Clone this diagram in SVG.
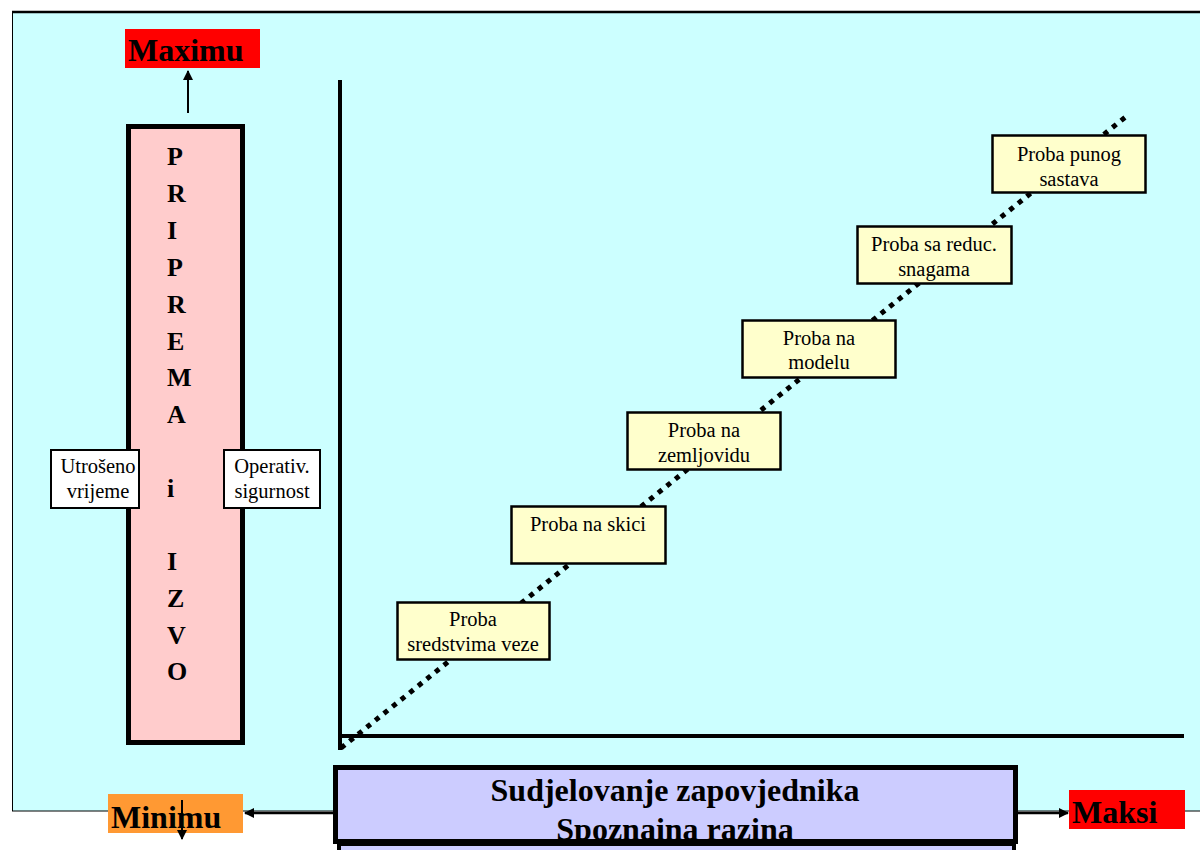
<svg xmlns="http://www.w3.org/2000/svg" width="1200" height="850" viewBox="0 0 1200 850">
<defs>
<style>
.t{font-family:"Liberation Serif","Times New Roman",serif;fill:#000}
.box{fill:#ffffcc;stroke:#000;stroke-width:2.5}
.wbox{fill:#fff;stroke:#000;stroke-width:2}
.lbl{font-size:20.5px;text-anchor:middle}
.big{font-size:26px;font-weight:bold}
.ln{stroke:#000;fill:none}
</style>
<marker id="ah" viewBox="0 0 10 10" refX="9" refY="5" markerWidth="10" markerHeight="10" markerUnits="userSpaceOnUse" orient="auto"><path d="M0,0 L10,5 L0,10 Z" fill="#000"/></marker>
<clipPath id="bc"><rect x="338" y="770" width="675" height="71"/></clipPath>
</defs>
<rect width="1200" height="850" fill="#fff"/>
<rect x="12.5" y="12" width="1200" height="799" fill="#ccffff" stroke="#000" stroke-width="1"/>
<line x1="12" y1="12" x2="1200" y2="12" stroke="#000" stroke-width="2.5"/>

<g id="connectors">
<line class="ln" x1="340" y1="80" x2="340" y2="750" stroke-width="4"/>
<line class="ln" x1="338" y1="736" x2="1184" y2="736" stroke-width="4"/>
<line class="ln" x1="341" y1="748" x2="1128" y2="115" stroke-width="5" stroke-dasharray="5 6"/>
<line class="ln" x1="188" y1="113" x2="188" y2="71" stroke-width="2" marker-end="url(#ah)"/>
<line class="ln" x1="340" y1="813" x2="245" y2="813" stroke-width="2.5" marker-end="url(#ah)"/>
<line class="ln" x1="1011" y1="813" x2="1068" y2="813" stroke-width="2.5" marker-end="url(#ah)"/>
</g>

<g id="maximu">
<rect x="125" y="29" width="135" height="39" fill="#ff0000"/>
<text class="t" x="128" y="61" font-size="32" font-weight="bold">Maximu</text>
</g>

<g id="priprema">
<rect x="128.5" y="126.5" width="114" height="616" fill="#ffcccc" stroke="#000" stroke-width="5"/>
<text class="t big" x="167" y="165">P</text>
<text class="t big" x="167" y="202">R</text>
<text class="t big" x="167" y="239">I</text>
<text class="t big" x="167" y="276">P</text>
<text class="t big" x="167" y="313">R</text>
<text class="t big" x="167" y="350">E</text>
<text class="t big" x="167" y="386">M</text>
<text class="t big" x="167" y="423">A</text>
<text class="t big" x="167" y="497">i</text>
<text class="t big" x="167" y="570">I</text>
<text class="t big" x="167" y="607">Z</text>
<text class="t big" x="167" y="644">V</text>
<text class="t big" x="167" y="680">O</text>
</g>

<g id="utroseno">
<rect class="wbox" x="51" y="450" width="88" height="58"/>
<text class="t lbl" x="98" y="473">Utrošeno</text>
<text class="t lbl" x="98" y="498">vrijeme</text>
</g>
<g id="operativ">
<rect class="wbox" x="224" y="450" width="96" height="58"/>
<text class="t lbl" x="272" y="473">Operativ.</text>
<text class="t lbl" x="272" y="498">sigurnost</text>
</g>

<g id="n1">
<rect class="box" x="397.5" y="602.5" width="152" height="57"/>
<text class="t lbl" x="473" y="626">Proba</text>
<text class="t lbl" x="473" y="651">sredstvima veze</text>
</g>
<g id="n2">
<rect class="box" x="511.5" y="506.5" width="154" height="57"/>
<text class="t lbl" x="588" y="531">Proba na skici</text>
</g>
<g id="n3">
<rect class="box" x="627.5" y="412.5" width="153" height="57"/>
<text class="t lbl" x="704" y="437">Proba na</text>
<text class="t lbl" x="704" y="462">zemljovidu</text>
</g>
<g id="n4">
<rect class="box" x="742.5" y="320.5" width="153" height="57"/>
<text class="t lbl" x="819" y="345">Proba na</text>
<text class="t lbl" x="819" y="369">modelu</text>
</g>
<g id="n5">
<rect class="box" x="857.5" y="226.5" width="154" height="57"/>
<text class="t lbl" x="934" y="251">Proba sa reduc.</text>
<text class="t lbl" x="934" y="276">snagama</text>
</g>
<g id="n6">
<rect class="box" x="992.5" y="135.5" width="153" height="57"/>
<text class="t lbl" x="1069" y="161">Proba punog</text>
<text class="t lbl" x="1069" y="186">sastava</text>
</g>

<g id="lower">
<rect x="339" y="844" width="675" height="20" fill="#ccccff" stroke="#000" stroke-width="4"/>
</g>
<g id="sudjelovanje">
<rect x="335.5" y="767.5" width="680" height="74" fill="#ccccff" stroke="#000" stroke-width="5"/>
<g clip-path="url(#bc)">
<text class="t" x="675" y="801" font-size="32" font-weight="bold" text-anchor="middle">Sudjelovanje zapovjednika</text>
<text class="t" x="675" y="840" font-size="32" font-weight="bold" text-anchor="middle">Spoznaina razina</text>
</g>
</g>

<g id="minimu">
<rect x="108" y="794" width="135" height="39" fill="#ff9933"/>
<text class="t" x="111" y="828" font-size="32" font-weight="bold">Minimu</text>
<line class="ln" x1="182" y1="800" x2="182" y2="839" stroke-width="2" marker-end="url(#ah)"/>
</g>

<g id="maksi">
<rect x="1069" y="790" width="116" height="39" fill="#ff0000"/>
<text class="t" x="1072" y="823" font-size="32" font-weight="bold">Maksi</text>
</g>
</svg>
